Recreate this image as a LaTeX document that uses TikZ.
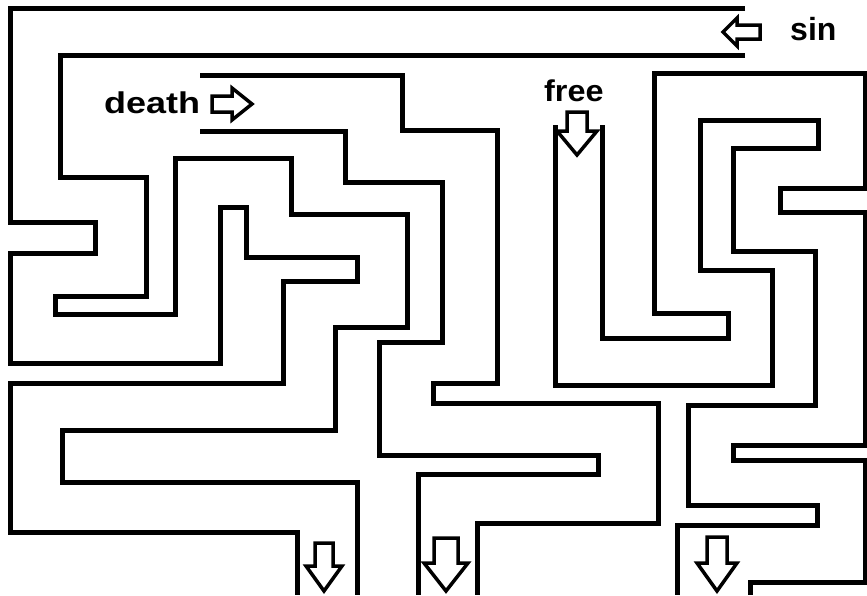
\documentclass[tikz,border=0pt]{standalone}
\usepackage{fontspec}
\setmainfont{Liberation Sans}
\tikzset{
  wall/.style={line width=5pt, line join=miter, line cap=butt},
  blockarrow/.style={line width=3.5pt, line join=miter, fill=white},
  label/.style={inner sep=0pt, anchor=base west}
}
\newcommand\mazedownarrow[6]{%
  \draw[blockarrow] ({#1-#3},#2) -- ({#1+#3},#2) -- ({#1+#3},#4) -- ({#1+#5},#4)
    -- (#1,#6) -- ({#1-#5},#4) -- ({#1-#3},#4) -- cycle;}
\begin{document}
\begin{tikzpicture}[x=1pt,y=-1pt]
\useasboundingbox (0,0) rectangle (867,595);
\fill[white] (0,0) rectangle (867,595);
% Wall A
\draw[wall] (745,8) -- (10,8) -- (10,222) -- (95,222) -- (95,253) -- (10,253) -- (10,363)
  -- (220,363) -- (220,207) -- (246,207) -- (246,257) -- (357,257) -- (357,281) -- (283,281)
  -- (283,383) -- (10,383) -- (10,532) -- (297,532) -- (297,595);
% Wall B
\draw[wall] (745,55) -- (60,55) -- (60,177) -- (146,177) -- (146,296) -- (55,296) -- (55,314)
  -- (175,314) -- (175,158) -- (291,158) -- (291,214) -- (407,214) -- (407,327) -- (335,327)
  -- (335,430) -- (62,430) -- (62,482) -- (357,482) -- (357,595);
% Wall C
\draw[wall] (200,75) -- (402,75) -- (402,130) -- (497,130) -- (497,383) -- (433,383) -- (433,403)
  -- (658,403) -- (658,523) -- (477,523) -- (477,595);
% Wall D
\draw[wall] (200,131) -- (345,131) -- (345,182) -- (442,182) -- (442,342) -- (379,342) -- (379,455)
  -- (598,455) -- (598,474) -- (418,474) -- (418,595);
% Wall E
\draw[wall] (555,125) -- (555,385) -- (772,385) -- (772,270) -- (700,270) -- (700,120) -- (818,120)
  -- (818,148) -- (733,148) -- (733,251) -- (815,251) -- (815,405) -- (688,405) -- (688,505)
  -- (817,505) -- (817,525) -- (677,525) -- (677,595);
% Wall F
\draw[wall] (602,125) -- (602,338) -- (728,338) -- (728,313) -- (654,313) -- (654,73) -- (865,73)
  -- (865,188) -- (780,188) -- (780,212) -- (865,212) -- (865,445) -- (733,445) -- (733,460)
  -- (865,460) -- (865,582) -- (750,582) -- (750,595);
% arrows
\mazedownarrow{324}{543}{9}{566}{18}{591}
\mazedownarrow{446}{538}{12}{563}{22}{591}
\mazedownarrow{717}{537}{10}{563}{20}{591}
\mazedownarrow{577}{112}{10}{131}{20}{155}
\draw[blockarrow] (760,25) -- (737,25) -- (737,18) -- (723,32) -- (737,46) -- (737,39) -- (760,39) -- cycle;
\draw[blockarrow] (212,96) -- (232,96) -- (232,88) -- (252,104) -- (232,120) -- (232,112) -- (212,112) -- cycle;
% labels
\node[label, font=\fontsize{30}{32}\selectfont\bfseries] (death) at (104,113) {\scalebox{1.2}[1]{death}};
\node[label, font=\fontsize{30}{32}\selectfont\bfseries] (free) at (544,101) {\scalebox{1.08}[1]{free}};
\node[label, font=\fontsize{32}{34}\selectfont\bfseries] (sin) at (790,40) {sin};
\end{tikzpicture}
\end{document}
